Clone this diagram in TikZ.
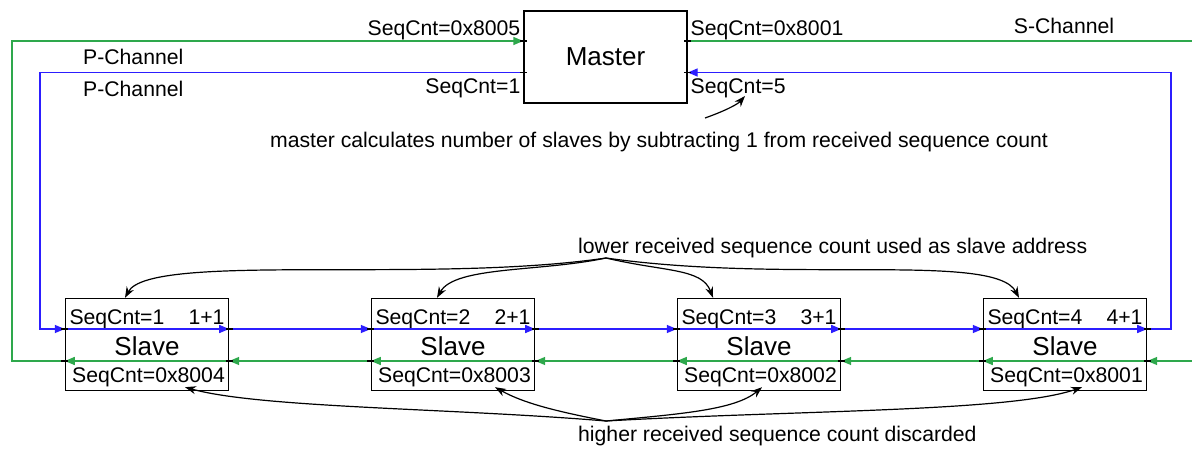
\documentclass[tikz,border=0pt]{standalone}
\usepackage{fontspec}
\setmainfont{Liberation Sans}
\usetikzlibrary{arrows.meta,calc}
\definecolor{sgreen}{RGB}{46,168,76}
\definecolor{pblue}{RGB}{44,30,255}
\begin{document}
\begin{tikzpicture}[x=1pt,y=-1pt,
  lbl/.style={font=\fontsize{21.2}{25}\selectfont, inner sep=0pt},
  big/.style={font=\fontsize{26}{30}\selectfont, inner sep=0pt},
  unit/.style={draw, line width=1.4pt, minimum width=163pt, minimum height=92pt, inner sep=0pt},
  gline/.style={draw=sgreen, line width=1.4pt},
  bline/.style={draw=pblue, line width=1.4pt},
  gflow/.style={gline, -{Triangle[length=10pt,width=8pt]}},
  bflow/.style={bline, -{Triangle[length=10pt,width=8pt]}},
  note/.style={draw, line width=1.2pt, -{Stealth[length=11pt,width=8pt]}},
  tick/.style={draw, line width=1.4pt}
]
\useasboundingbox (0,0) rectangle (1192,450);

% master unit
\node[unit] (master) at (605.5,57) {};
\node[big, anchor=base] (mtitle) at (605.5,65.7) {Master};
\coordinate (mgl) at (master.west |- 0,41);
\coordinate (mbl) at (master.west |- 0,72.5);
\coordinate (mgr) at (master.east |- 0,41);
\coordinate (mbr) at (master.east |- 0,72.5);

% slave units with their ports
\foreach \i/\cx/\n/\hi in {1/147/1/0x8004, 2/453/2/0x8003, 3/759/3/0x8002, 4/1065/4/0x8001}{
  \node[unit] (s\i) at (\cx,344.5) {};
  \node[big, anchor=base] (s\i title) at (\cx,355) {Slave};
  \node[lbl, anchor=base west] (s\i lo) at ([xshift=4.5pt]s\i.west |- 0,324) {SeqCnt=\n};
  \node[lbl, anchor=base east] (s\i inc) at ([xshift=-4.5pt]s\i.east |- 0,324) {\n+1};
  \node[lbl, anchor=base] (s\i hi) at ([xshift=1.5pt]s\i.center |- 0,382) {SeqCnt=\hi};
  \coordinate (s\i bl) at (s\i.west |- 0,329);
  \coordinate (s\i br) at (s\i.east |- 0,329);
  \coordinate (s\i gl) at (s\i.west |- 0,361);
  \coordinate (s\i gr) at (s\i.east |- 0,361);
}

% ring corners and open ends
\coordinate (gin)  at (1192,361);
\coordinate (gout) at (1192,41);
\coordinate (gcl)  at (12,361);
\coordinate (gcu)  at (12,41);
\coordinate (bcu)  at (40,72.5);
\coordinate (bcl)  at (40,329);
\coordinate (bcr)  at (1171,329);
\coordinate (bcru) at (1171,72.5);

% S-channel (green)
\draw[gline] (mgr) -- (gout);
\draw[gflow] (gin) -- (s4gr);
\draw[gflow] (s4gr) -- (s4gl);
\draw[gflow] (s4gl) -- (s3gr);
\draw[gflow] (s3gr) -- (s3gl);
\draw[gflow] (s3gl) -- (s2gr);
\draw[gflow] (s2gr) -- (s2gl);
\draw[gflow] (s2gl) -- (s1gr);
\draw[gflow] (s1gr) -- (s1gl);
\draw[gflow] (s1gl) -- (gcl) -- (gcu) -- (mgl);

% P-channel (blue)
\draw[bflow] (mbl) -- (bcu) -- (bcl) -- (s1bl);
\draw[bflow] (s1bl) -- (s1br);
\draw[bflow] (s1br) -- (s2bl);
\draw[bflow] (s2bl) -- (s2br);
\draw[bflow] (s2br) -- (s3bl);
\draw[bflow] (s3bl) -- (s3br);
\draw[bflow] (s3br) -- (s4bl);
\draw[bflow] (s4bl) -- (s4br);
\draw[bflow] (s4br) -- (bcr) -- (bcru) -- (mbr);

% port ticks
\foreach \p in {mgl,mbl,mgr,mbr,s1bl,s1br,s1gl,s1gr,s2bl,s2br,s2gl,s2gr,s3bl,s3br,s3gl,s3gr,s4bl,s4br,s4gl,s4gr}{
  \draw[tick] ([xshift=-3.5pt]\p) -- ([xshift=3.5pt]\p);
}

% channel labels
\node[lbl, anchor=base east] (mseqhi) at (520.5,35.5) {SeqCnt=0x8005};
\node[lbl, anchor=base east] (mseqlo) at (520.5,93) {SeqCnt=1};
\node[lbl, anchor=base west] (mseqhr) at (690.5,35.5) {SeqCnt=0x8001};
\node[lbl, anchor=base west] (mseqlr) at (690.5,93) {SeqCnt=5};
\node[lbl, anchor=base west] (pch1) at (83,64.3) {P-Channel};
\node[lbl, anchor=base west] (pch2) at (83,96) {P-Channel};
\node[lbl, anchor=base] (sch) at (1064,33.5) {S-Channel};

% annotations
\node[lbl, anchor=base] (calc) at (659,147) {master calculates number of slaves by subtracting 1 from received sequence count};
\coordinate (calctail) at (705,118);
\coordinate (calchead) at (745,96);
\draw[note] (calctail) .. controls (722,112) and (737,105) .. (calchead);

\node[lbl, anchor=base west] (lower) at (578,253) {lower received sequence count used as slave address};
\coordinate (lo) at (606,258);
\draw[note] (lo) .. controls (430,284) and (150,252) .. ([xshift=-22pt]s1.north);
\draw[note] (lo) .. controls (540,272) and (455,266) .. ([xshift=-16pt]s2.north);
\draw[note] (lo) .. controls (665,272) and (702,268) .. ([xshift=-46pt]s3.north);
\draw[note] (lo) .. controls (790,284) and (995,252) .. ([xshift=-46pt]s4.north);

\node[lbl, anchor=base west] (higher) at (578,441) {higher received sequence count discarded};
\coordinate (hi) at (606,421);
\draw[note] (hi) .. controls (450,408) and (260,408) .. ([xshift=38pt,yshift=4pt]s1.south);
\draw[note] (hi) .. controls (560,412) and (525,404) .. ([xshift=42pt,yshift=4pt]s2.south);
\draw[note] (hi) .. controls (680,414) and (735,410) .. ([xshift=3pt,yshift=4pt]s3.south);
\draw[note] (hi) .. controls (800,410) and (1010,412) .. ([xshift=17pt,yshift=4pt]s4.south);
\end{tikzpicture}
\end{document}
